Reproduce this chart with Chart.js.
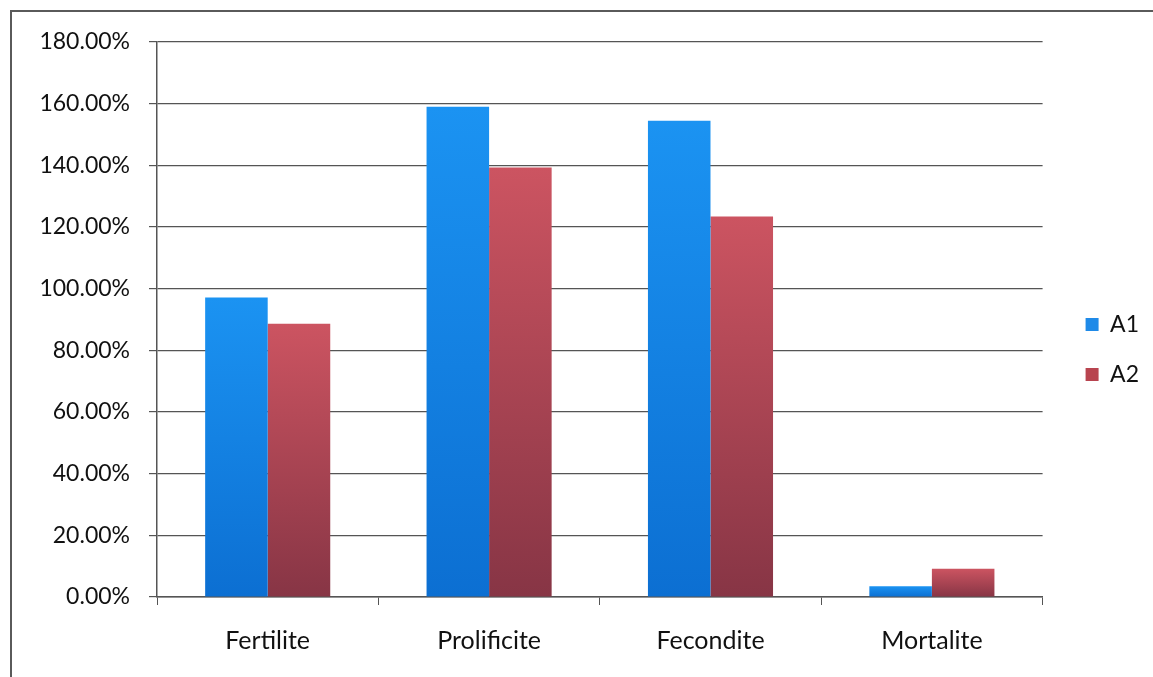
<!DOCTYPE html>
<html>
<head>
<meta charset="utf-8">
<script src="https://cdn.jsdelivr.net/npm/chart.js@4.4.1/dist/chart.umd.min.js"></script>
<style>
  html, body { margin: 0; padding: 0; background: #ffffff; }
  #wrap { position: relative; width: 1153px; height: 677px; }
</style>
</head>
<body>
<div id="wrap"><canvas id="c" width="1153" height="677"></canvas></div>
<script>
const categories = ['Fertilite', 'Prolificite', 'Fecondite', 'Mortalite'];
const seriesNames = ['A1', 'A2'];
const valuesA1 = [97.1, 159.0, 154.5, 3.5];
const valuesA2 = [88.6, 139.3, 123.4, 9.2];
const yTicks = [0, 20, 40, 60, 80, 100, 120, 140, 160, 180];

const palette = {
  A1: { top: '#1b93f2', bottom: '#0c6fd2', legend: '#1f8ae8' },
  A2: { top: '#cc5461', bottom: '#873545', legend: '#b8444f' }
};

function barGradient(key) {
  return function (ctx) {
    const chart = ctx.chart;
    const y = chart.scales && chart.scales.y;
    if (!chart.chartArea || !y || ctx.raw === undefined) return palette[key].top;
    const top = y.getPixelForValue(ctx.raw);
    const bot = y.getPixelForValue(0);
    if (!isFinite(top) || !isFinite(bot) || top === bot) return palette[key].top;
    const g = chart.ctx.createLinearGradient(0, top, 0, bot);
    g.addColorStop(0, palette[key].top);
    g.addColorStop(1, palette[key].bottom);
    return g;
  };
}

const framePlugin = {
  id: 'frame',
  beforeDraw(chart) {
    const c = chart.ctx;
    c.save();
    c.fillStyle = '#ffffff';
    c.fillRect(0, 0, chart.width, chart.height);
    c.strokeStyle = '#5a5a5a';
    c.lineWidth = 2;
    c.beginPath();
    c.moveTo(11, chart.height);
    c.lineTo(11, 11);
    c.lineTo(chart.width, 11);
    c.stroke();
    c.restore();
  }
};

// nudge the library-built legend box into the reference's place
const legendShift = { dx: 16, dy: -10 };
const legendNudge = {
  id: 'legendNudge',
  afterLayout(chart) {
    const lg = chart.legend;
    if (!lg) return;
    lg.left += legendShift.dx; lg.right += legendShift.dx;
    lg.top += legendShift.dy; lg.bottom += legendShift.dy;
  }
};

const FONT = 'Lato, "Open Sans", sans-serif';

new Chart(document.getElementById('c'), {
  type: 'bar',
  data: {
    labels: categories,
    datasets: [
      { label: seriesNames[0], data: valuesA1, backgroundColor: barGradient('A1'),
        categoryPercentage: 0.565, barPercentage: 1.0 },
      { label: seriesNames[1], data: valuesA2, backgroundColor: barGradient('A2'),
        categoryPercentage: 0.565, barPercentage: 1.0 }
    ]
  },
  options: {
    responsive: false,
    animation: false,
    layout: { padding: { left: 10, top: 42, right: 20, bottom: 0 } },
    plugins: {
      tooltip: { enabled: false },
      legend: {
        position: 'right',
        align: 'center',
        labels: {
          boxWidth: 13,
          boxHeight: 13,
          padding: 27,
          color: '#111111',
          font: { family: FONT, size: 23 },
          generateLabels(chart) {
            return chart.data.datasets.map((ds, i) => ({
              text: ds.label,
              fillStyle: palette[ds.label].legend,
              strokeStyle: palette[ds.label].legend,
              lineWidth: 0,
              hidden: false,
              datasetIndex: i,
              fontColor: '#111111'
            }));
          }
        }
      }
    },
    scales: {
      x: {
        grid: { display: true, drawOnChartArea: false, drawTicks: true, tickLength: 8, color: '#555555', offset: true },
        border: { display: true, color: '#555555', width: 1.5 },
        ticks: { color: '#111111', font: { family: FONT, size: 25 }, padding: 21 },
        afterFit(s) { s.height = 80; }
      },
      y: {
        min: 0,
        max: 180,
        afterBuildTicks(s) { s.ticks = yTicks.map(v => ({ value: v })); },
        grid: { color: '#555555', lineWidth: 1.2, drawTicks: true, tickLength: 8 },
        border: { display: true, color: '#555555', width: 1.5 },
        ticks: {
          color: '#111111',
          font: { family: FONT, size: 23 },
          padding: 19,
          callback: v => Number(v).toFixed(2) + '%'
        },
        afterFit(s) { s.width = 147; }
      }
    }
  },
  plugins: [framePlugin, legendNudge]
});
</script>
</body>
</html>
